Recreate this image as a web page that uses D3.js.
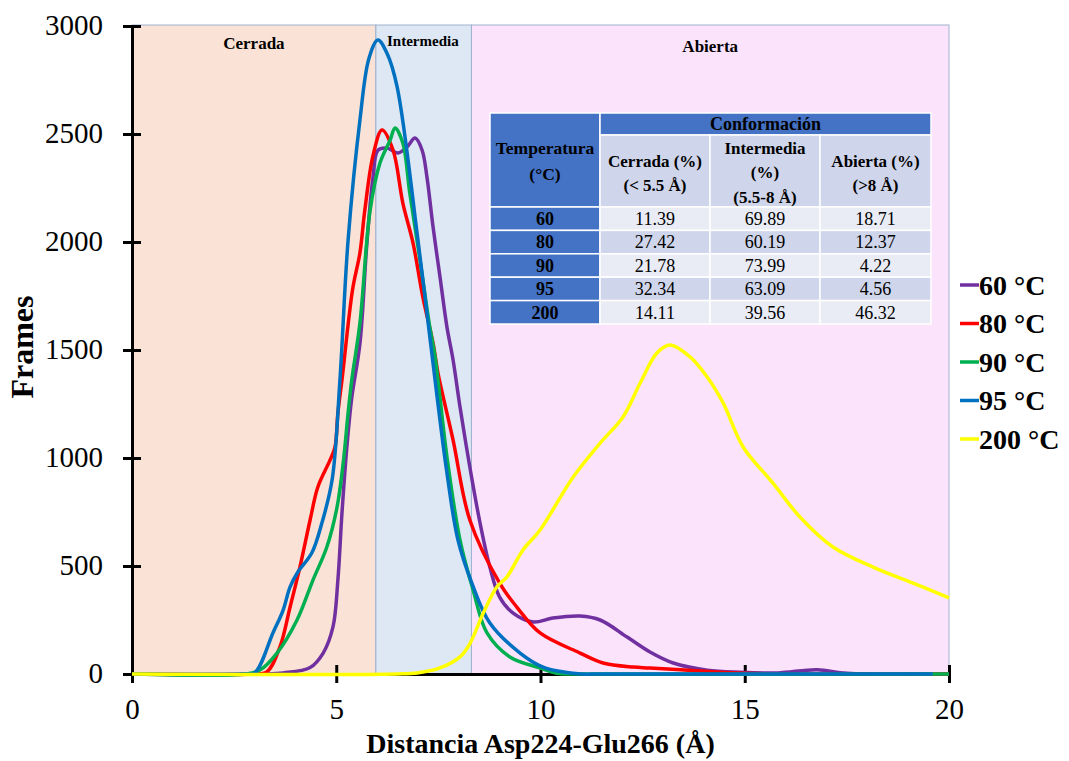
<!DOCTYPE html>
<html>
<head>
<meta charset="utf-8">
<script src="https://cdn.jsdelivr.net/npm/d3@7"></script>
<style>
  body { margin: 0; background: #fff; }
  text { font-family: "Liberation Serif", "Times New Roman", serif; }
</style>
</head>
<body>
<div id="chart"></div>
<script>
// distance (Å) vs frames
var s60 = [[0,0],[3.2,0],[3.7,5],[4.36,30],[4.68,97],[4.92,218],[5.04,435],[5.14,745],[5.26,1050],[5.38,1280],[5.58,1530],[5.75,1995],[5.9,2300],[6.02,2425],[6.24,2435],[6.51,2412],[6.73,2440],[6.93,2481],[7.1,2426],[7.22,2301],[7.37,2069],[7.54,1838],[7.71,1606],[7.86,1454],[8.03,1236],[8.27,958],[8.52,699],[8.76,495],[9.0,356],[9.33,282],[9.82,241],[10.3,259],[10.97,268],[11.46,250],[12.12,171],[12.68,102],[13.25,51],[14.08,18],[14.88,8],[15.8,5],[16.77,20],[17.5,3],[20,0]];
var s80 = [[0,0],[2.9,0],[3.3,10],[3.62,125],[3.87,310],[4.11,495],[4.36,713],[4.55,866],[4.85,991],[4.97,1051],[5.04,1208],[5.14,1361],[5.4,1780],[5.58,1950],[5.7,2148],[5.9,2400],[6.12,2519],[6.39,2426],[6.63,2180],[6.88,1995],[7.12,1745],[7.37,1532],[7.49,1393],[7.86,1083],[8.27,713],[9.0,421],[9.42,310],[9.99,190],[10.97,97],[11.53,51],[12.27,32],[12.68,28],[13.9,14],[15,3],[20,0]];
var s90 = [[0,0],[2.8,0],[3.13,18],[3.55,97],[4.04,250],[4.43,435],[4.77,588],[5.02,773],[5.17,977],[5.29,1208],[5.38,1361],[5.58,1625],[5.83,2148],[6.07,2366],[6.32,2472],[6.44,2528],[6.63,2458],[6.8,2227],[7.05,1917],[7.29,1606],[7.42,1468],[7.71,1005],[8.03,620],[8.35,389],[8.69,190],[9.25,79],[9.99,28],[10.4,3],[10.8,0],[20,0]];
var s95 = [[0,0],[2.7,0],[3.0,5],[3.45,190],[3.7,296],[3.87,403],[4.06,472],[4.4,560],[4.65,700],[4.9,900],[5.09,1361],[5.29,2009],[5.58,2565],[5.8,2850],[6.02,2935],[6.25,2870],[6.49,2718],[7.0,2009],[7.3,1546],[7.71,930],[7.98,620],[8.32,421],[8.76,236],[9.5,97],[10.06,32],[10.6,8],[11,0],[11.5,0],[19.6,0]];
var s200 = [[0,0],[6.5,0],[6.98,5],[7.54,28],[8.03,79],[8.27,140],[8.6,282],[8.93,403],[9.18,450],[9.57,574],[9.99,667],[10.8,912],[11.46,1069],[12.02,1190],[12.44,1347],[12.85,1486],[13.17,1523],[13.66,1468],[14.08,1375],[14.47,1255],[14.96,1051],[15.69,884],[16.35,727],[17.16,588],[18.14,495],[19.12,421],[20,352]];

var seriesNames = ["60 °C", "80 °C", "90 °C", "95 °C", "200 °C"];
var seriesColors = ["#7030A0", "#FF0000", "#00B050", "#0070C0", "#FFFF00"];
var seriesData = [s60, s80, s90, s95, s200];

// shaded conformation zones (Å)
var zoneNames = ["Cerrada", "Intermedia", "Abierta"];
var zoneStart = [0, 5.97, 8.31];
var zoneEnd = [5.97, 8.31, 20];
var zoneColors = ["#FAE3D6", "#DDE8F4", "#FBE3FB"];

var xTicks = [0, 5, 10, 15, 20];
var yTicks = [0, 500, 1000, 1500, 2000, 2500, 3000];

// inset table
var tableTemps = ["60", "80", "90", "95", "200"];
var tableCerrada = [11.39, 27.42, 21.78, 32.34, 14.11];
var tableIntermedia = [69.89, 60.19, 73.99, 63.09, 39.56];
var tableAbierta = [18.71, 12.37, 4.22, 4.56, 46.32];

var W = 1069, H = 761;
var svg = d3.select("#chart").append("svg").attr("width", W).attr("height", H);

var x = d3.scaleLinear().domain([0, 20]).range([132, 949]);
var y = d3.scaleLinear().domain([0, 3000]).range([674, 26]);

// zones
svg.selectAll(".zone")
  .data(zoneNames)
  .enter()
  .append("rect")
  .attr("class", "zone")
  .attr("x", function(d, i){ return x(zoneStart[i]); })
  .attr("y", y(3000) - 1)
  .attr("width", function(d, i){ return x(zoneEnd[i]) - x(zoneStart[i]); })
  .attr("height", y(0) - y(3000) + 1)
  .style("fill", function(d, i){ return zoneColors[i]; })
  .style("stroke", "#9FB2CE")
  .style("stroke-width", 1);

var zoneFont = [17, 15, 17];
var zoneY = [49, 46, 52];
svg.selectAll(".zone-label")
  .data(zoneNames)
  .enter()
  .append("text")
  .attr("x", function(d, i){ return i == 1 ? x(zoneStart[i]) + 47 : (x(zoneStart[i]) + x(zoneEnd[i])) / 2; })
  .attr("y", function(d, i){ return zoneY[i]; })
  .attr("text-anchor", "middle")
  .style("font-weight", "bold")
  .style("font-size", function(d, i){ return zoneFont[i] + "px"; })
  .text(function(d){ return d; });

// lines
var line = d3.line()
  .x(function(d){ return x(d[0]); })
  .y(function(d){ return y(Math.max(0, d[1])); })
  .curve(d3.curveCatmullRom.alpha(0.5));

// axes
var xAxis = svg.append("g")
  .attr("transform", "translate(0," + y(0) + ")")
  .call(d3.axisBottom(x).tickValues(xTicks).tickSize(9).tickPadding(30));
var yAxis = svg.append("g")
  .attr("transform", "translate(" + x(0) + ",0)")
  .call(d3.axisLeft(y).tickValues(yTicks).tickFormat(d3.format("d")).tickSize(9).tickPadding(20));

[xAxis, yAxis].forEach(function(g){
  g.select(".domain").style("stroke", "#000").style("stroke-width", 3);
  g.selectAll(".tick line").style("stroke", "#000").style("stroke-width", 3);
  g.selectAll(".tick text")
    .style("font-family", "'Liberation Serif', 'Times New Roman', serif")
    .style("font-size", "29px")
    .style("fill", "#000");
});
xAxis.selectAll(".tick line").attr("y1", -9).attr("y2", 9);
yAxis.selectAll(".tick line").attr("x1", 9).attr("x2", -9);
xAxis.selectAll(".tick text").attr("dy", "0.2em");
yAxis.selectAll(".tick text").attr("dy", "0.3em");

svg.selectAll(".series")
  .data(seriesData)
  .enter()
  .append("path")
  .attr("class", "series")
  .attr("d", line)
  .style("fill", "none")
  .style("stroke", function(d, i){ return seriesColors[i]; })
  .style("stroke-width", 3.5)
  .style("stroke-linejoin", "round");

// axis titles
svg.append("text")
  .attr("x", (x(0) + x(20)) / 2)
  .attr("y", 753)
  .attr("text-anchor", "middle")
  .style("font-weight", "bold")
  .style("font-size", "28px")
  .text("Distancia Asp224-Glu266 (Å)");

svg.append("text")
  .attr("transform", "translate(33,347) rotate(-90)")
  .attr("text-anchor", "middle")
  .style("font-weight", "bold")
  .style("font-size", "32px")
  .text("Frames");

// legend
var legend = svg.selectAll(".legend")
  .data(seriesNames)
  .enter()
  .append("g")
  .attr("transform", function(d, i){ return "translate(960," + (285 + i * 38.5) + ")"; });
legend.append("line")
  .attr("x1", 0).attr("x2", 19)
  .style("stroke", function(d, i){ return seriesColors[i]; })
  .style("stroke-width", 3.5);
legend.append("text")
  .attr("x", 19)
  .attr("dy", "0.35em")
  .style("font-weight", "bold")
  .style("font-size", "28px")
  .text(function(d){ return d; });

// table
var colX = [490, 600, 710, 820, 931];
var rowTop = 207, rowH = 23.4;
var tbl = svg.append("g");

tbl.append("rect").attr("x", colX[0]).attr("y", 113).attr("width", colX[1] - colX[0]).attr("height", rowTop - 113)
  .style("fill", "#4472C4").style("stroke", "#fff").style("stroke-width", 1.5);
tbl.append("rect").attr("x", colX[1]).attr("y", 113).attr("width", colX[4] - colX[1]).attr("height", 22)
  .style("fill", "#4472C4").style("stroke", "#fff").style("stroke-width", 1.5);
for (var c = 1; c < 4; c++) {
  tbl.append("rect").attr("x", colX[c]).attr("y", 135).attr("width", colX[c + 1] - colX[c]).attr("height", rowTop - 135)
    .style("fill", "#CFD5EA").style("stroke", "#fff").style("stroke-width", 1.5);
}

function hdr(tx, ty, t, size) {
  tbl.append("text").attr("x", tx).attr("y", ty).attr("dy", "0.35em").attr("text-anchor", "middle")
    .style("font-weight", "bold").style("font-size", (size || 17) + "px").text(t);
}
hdr((colX[1] + colX[4]) / 2, 124, "Conformación", 18);
hdr((colX[0] + colX[1]) / 2, 148, "Temperatura", 17.5);
hdr((colX[0] + colX[1]) / 2, 174, "(°C)", 17.5);
hdr((colX[1] + colX[2]) / 2, 161, "Cerrada (%)");
hdr((colX[1] + colX[2]) / 2, 185, "(< 5.5 Å)");
hdr((colX[2] + colX[3]) / 2, 148, "Intermedia");
hdr((colX[2] + colX[3]) / 2, 172, "(%)");
hdr((colX[2] + colX[3]) / 2, 197, "(5.5-8 Å)");
hdr((colX[3] + colX[4]) / 2, 161, "Abierta (%)");
hdr((colX[3] + colX[4]) / 2, 185, "(>8 Å)");

var cols = [tableCerrada, tableIntermedia, tableAbierta];
tableTemps.forEach(function(t, r){
  var ry = rowTop + r * rowH;
  tbl.append("rect").attr("x", colX[0]).attr("y", ry).attr("width", colX[1] - colX[0]).attr("height", rowH)
    .style("fill", "#4472C4").style("stroke", "#fff").style("stroke-width", 1.5);
  tbl.append("text").attr("x", (colX[0] + colX[1]) / 2).attr("y", ry + rowH / 2).attr("dy", "0.35em")
    .attr("text-anchor", "middle").style("font-weight", "bold").style("font-size", "18px").text(t);
  cols.forEach(function(col, c){
    tbl.append("rect").attr("x", colX[c + 1]).attr("y", ry).attr("width", colX[c + 2] - colX[c + 1]).attr("height", rowH)
      .style("fill", r % 2 == 0 ? "#E9EBF5" : "#CFD5EA").style("stroke", "#fff").style("stroke-width", 1.5);
    tbl.append("text").attr("x", (colX[c + 1] + colX[c + 2]) / 2).attr("y", ry + rowH / 2).attr("dy", "0.35em")
      .attr("text-anchor", "middle").style("font-size", "18px").text(col[r].toFixed(2));
  });
});
</script>
</body>
</html>
